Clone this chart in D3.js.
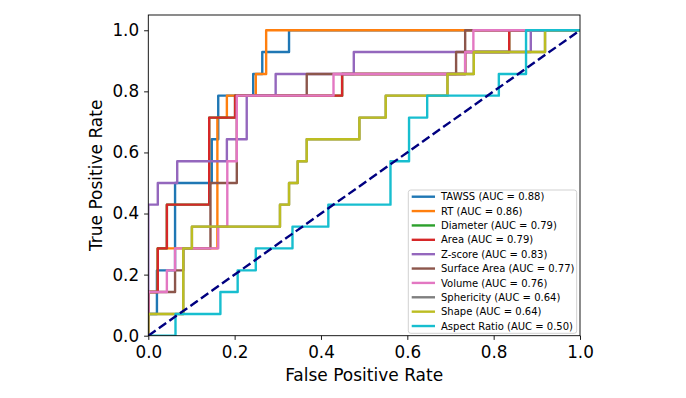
<!DOCTYPE html>
<html>
<head>
<meta charset="utf-8">
<script src="https://cdn.jsdelivr.net/npm/d3@7"></script>
<style>
  body { margin: 0; background: #fff; }
  text { font-family: "DejaVu Sans", sans-serif; fill: #000; }
</style>
</head>
<body>
<div id="chart"></div>
<script>
// roc curves, one pair of arrays per feature (corner points of each step)
var names = ["TAWSS", "RT", "Diameter", "Area", "Z-score", "Surface Area", "Volume", "Sphericity", "Shape", "Aspect Ratio"];
var aucs = [0.88, 0.86, 0.79, 0.79, 0.83, 0.77, 0.76, 0.64, 0.64, 0.50];
var colors = ["#1f77b4", "#ff7f0e", "#2ca02c", "#d62728", "#9467bd", "#8c564b", "#e377c2", "#7f7f7f", "#bcbd22", "#17becf"];

var fprTawss = [0, 0, 0.020, 0.062, 0.147, 0.162, 0.243, 0.264, 0.326, 1];
var tprTawss = [0, 0.071, 0.214, 0.5, 0.643, 0.786, 0.857, 0.929, 1, 1];
var fprRt = [0, 0, 0.022, 0.160, 0.182, 0.249, 0.273, 1];
var tprRt = [0, 0.143, 0.286, 0.714, 0.786, 0.857, 1, 1];
var fprDiameter = [0, 0, 0.022, 0.043, 0.141, 0.201, 0.449, 0.734, 0.836, 1];
var tprDiameter = [0, 0.143, 0.286, 0.429, 0.714, 0.786, 0.857, 0.929, 1, 1];
var fprArea = [0, 0, 0.022, 0.043, 0.141, 0.201, 0.449, 0.734, 0.836, 1];
var tprArea = [0, 0.143, 0.286, 0.429, 0.714, 0.786, 0.857, 0.929, 1, 1];
var fprZscore = [0, 0, 0.022, 0.067, 0.182, 0.228, 0.295, 0.476, 0.886, 1];
var tprZscore = [0, 0.429, 0.5, 0.571, 0.643, 0.786, 0.857, 0.929, 1, 1];
var fprSurface = [0, 0, 0.062, 0.081, 0.144, 0.205, 0.367, 0.713, 0.734, 1];
var tprSurface = [0, 0.143, 0.214, 0.286, 0.5, 0.786, 0.857, 0.929, 1, 1];
var fprVolume = [0, 0, 0.043, 0.062, 0.162, 0.183, 0.205, 0.429, 0.734, 0.753, 1];
var tprVolume = [0, 0.143, 0.214, 0.286, 0.357, 0.571, 0.786, 0.857, 0.929, 1, 1];
var fprSphericity = [0, 0, 0.081, 0.101, 0.305, 0.326, 0.346, 0.367, 0.489, 0.550, 0.693, 0.754, 0.919, 1];
var tprSphericity = [0, 0.071, 0.286, 0.357, 0.429, 0.5, 0.571, 0.643, 0.714, 0.786, 0.857, 0.929, 1, 1];
var fprShape = [0, 0, 0.081, 0.101, 0.305, 0.326, 0.346, 0.367, 0.489, 0.550, 0.693, 0.754, 0.919, 1];
var tprShape = [0, 0.071, 0.286, 0.357, 0.429, 0.5, 0.571, 0.643, 0.714, 0.786, 0.857, 0.929, 1, 1];
var fprAspect = [0, 0.063, 0.167, 0.207, 0.249, 0.334, 0.417, 0.561, 0.604, 0.646, 0.812, 0.875, 1];
var tprAspect = [0, 0.071, 0.143, 0.214, 0.286, 0.357, 0.429, 0.571, 0.714, 0.786, 0.857, 1, 1];

var fprs = [fprTawss, fprRt, fprDiameter, fprArea, fprZscore, fprSurface, fprVolume, fprSphericity, fprShape, fprAspect];
var tprs = [tprTawss, tprRt, tprDiameter, tprArea, tprZscore, tprSurface, tprVolume, tprSphericity, tprShape, tprAspect];

var xTicks = [0, 0.2, 0.4, 0.6, 0.8, 1.0];
var yTicks = [0, 0.2, 0.4, 0.6, 0.8, 1.0];

(function() {
  var W = 686, H = 398;
  var left = 148.3, right = 580, top = 15, bottom = 335.7;

  var svg = d3.select("#chart")
    .append("svg")
    .attr("width", W)
    .attr("height", H);

  var x = d3.scaleLinear().domain([0, 1]).range([left, right]);
  var y = d3.scaleLinear().domain([0, 1.05]).range([bottom, top]);

  svg.append("clipPath")
    .attr("id", "plot-clip")
    .append("rect")
    .attr("x", left).attr("y", top)
    .attr("width", right - left).attr("height", bottom - top);

  var line = d3.line()
    .x(function(d) { return x(d[0]); })
    .y(function(d) { return y(d[1]); })
    .curve(d3.curveStepAfter);

  var curves = svg.append("g").attr("clip-path", "url(#plot-clip)");

  names.forEach(function(name, i) {
    var pts = fprs[i].map(function(f, j) { return [f, tprs[i][j]]; });
    curves.append("path")
      .datum(pts)
      .attr("d", line)
      .attr("fill", "none")
      .attr("stroke", colors[i])
      .attr("stroke-width", 2.4)
      .attr("stroke-linejoin", "round");
  });

  // chance line
  curves.append("path")
    .datum([[0, 0], [1, 1]])
    .attr("d", d3.line().x(function(d) { return x(d[0]); }).y(function(d) { return y(d[1]); }))
    .attr("fill", "none")
    .attr("stroke", "#000080")
    .attr("stroke-width", 2.4)
    .attr("stroke-dasharray", "9,3.9");

  // axes
  var xAxis = svg.append("g")
    .attr("transform", "translate(0," + bottom + ")")
    .call(d3.axisBottom(x).tickValues(xTicks).tickSize(4.2).tickPadding(6).tickFormat(d3.format(".1f")));
  var yAxis = svg.append("g")
    .attr("transform", "translate(" + left + ",0)")
    .call(d3.axisLeft(y).tickValues(yTicks).tickSize(4.2).tickPadding(5).tickFormat(d3.format(".1f")));

  [xAxis, yAxis].forEach(function(a) {
    a.select(".domain").remove();
    a.selectAll("line").attr("stroke", "#000").attr("stroke-width", 0.9);
    a.selectAll("text").attr("font-size", 16.8).attr("font-family", "DejaVu Sans").attr("fill", "#000");
  });

  svg.append("rect")
    .attr("x", left).attr("y", top)
    .attr("width", right - left).attr("height", bottom - top)
    .attr("fill", "none")
    .attr("stroke", "#000")
    .attr("stroke-width", 0.9);

  svg.append("text")
    .attr("x", (left + right) / 2)
    .attr("y", 381)
    .attr("text-anchor", "middle")
    .attr("font-size", 17)
    .text("False Positive Rate");

  svg.append("text")
    .attr("transform", "translate(102," + ((top + bottom) / 2) + ") rotate(-90)")
    .attr("text-anchor", "middle")
    .attr("font-size", 17)
    .text("True Positive Rate");

  // legend
  var lx = 408.3, ly = 190, lw = 168.4, lh = 143.3, rowH = 14.37;
  var legend = svg.append("g");
  legend.append("rect")
    .attr("x", lx).attr("y", ly)
    .attr("width", lw).attr("height", lh)
    .attr("rx", 2.5)
    .attr("fill", "#fff")
    .attr("fill-opacity", 0.8)
    .attr("stroke", "#cccccc")
    .attr("stroke-width", 0.9);

  var rows = legend.selectAll(".row")
    .data(names)
    .enter().append("g")
    .attr("transform", function(d, i) { return "translate(0," + (ly + 6.7 + i * rowH) + ")"; });

  rows.append("line")
    .attr("x1", 411.7).attr("x2", 435)
    .attr("y1", 0).attr("y2", 0)
    .attr("stroke", function(d, i) { return colors[i]; })
    .attr("stroke-width", 2.4);

  rows.append("text")
    .attr("x", 441)
    .attr("y", 3.6)
    .attr("font-size", 10)
    .text(function(d, i) { return d + " (AUC = " + aucs[i].toFixed(2) + ")"; });
})();
</script>
</body>
</html>
